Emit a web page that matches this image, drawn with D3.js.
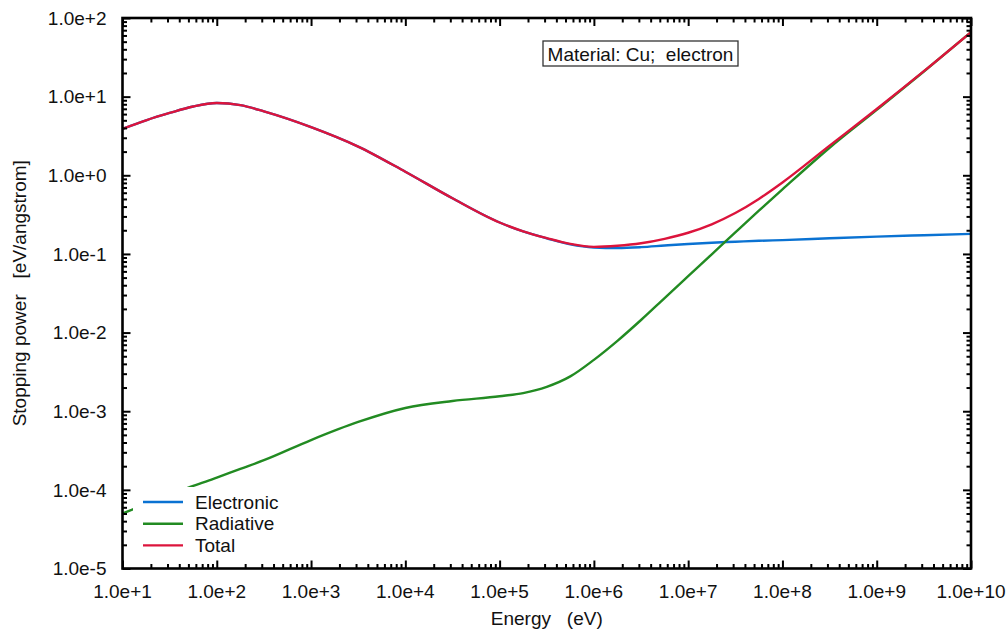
<!DOCTYPE html>
<html>
<head>
<meta charset="utf-8">
<script src="https://cdn.jsdelivr.net/npm/d3@7"></script>
<style>
  html, body { margin: 0; padding: 0; background: #fff; }
  svg text { font-family: "Liberation Sans", Arial, sans-serif; fill: #111; }
</style>
</head>
<body>
<div id="chart"></div>
<script>
// energies (eV) at which the curves were read, as log10
const energyLog = [1, 1.25, 1.5, 1.75, 2, 2.25, 2.5, 3, 3.5, 4, 4.5, 5, 5.25, 5.5, 5.75, 6, 6.25, 6.5, 6.75, 7, 7.25, 7.5, 7.75, 8, 8.5, 9, 9.5, 10];

// stopping power in eV/angstrom
const electronic = [3.9, 5.0, 6.2, 7.5, 8.3, 7.8, 6.5, 4.1, 2.32, 1.11, 0.51, 0.251, 0.193, 0.158, 0.132, 0.1208, 0.119, 0.122, 0.128, 0.134, 0.139, 0.143, 0.147, 0.150, 0.158, 0.166, 0.173, 0.180];
const radiative = [5.0e-5, 6.6e-5, 8.6e-5, 1.12e-4, 1.43e-4, 1.85e-4, 2.38e-4, 4.3e-4, 7.3e-4, 1.1e-3, 1.35e-3, 1.55e-3, 1.7e-3, 2.04e-3, 2.77e-3, 4.5e-3, 7.85e-3, 0.01445, 0.0275, 0.0522, 0.099, 0.188, 0.355, 0.661, 2.24, 6.8, 20.9, 66];
const total = [3.9, 5.0, 6.2, 7.5, 8.3, 7.8, 6.5, 4.1, 2.32, 1.11, 0.51, 0.251, 0.194, 0.159, 0.134, 0.123, 0.127, 0.1365, 0.1555, 0.186, 0.238, 0.331, 0.50, 0.81, 2.38, 6.97, 21.1, 66.2];

const seriesNames = ["Electronic", "Radiative", "Total"];
const seriesColors = ["#0a72d2", "#228b22", "#dc143c"];

const xExponents = d3.range(1, 11);
const yExponents = d3.range(-5, 3);

const W = 1006, H = 633;
const pLeft = 122.5, pRight = 971, pTop = 18, pBottom = 568.5;
const fontSize = "19px";

const svg = d3.select("#chart").append("svg")
  .attr("width", W)
  .attr("height", H);

const x = d3.scaleLog().domain([1e1, 1e10]).range([pLeft, pRight]);
const y = d3.scaleLog().domain([1e-5, 1e2]).range([pBottom, pTop]);

const fmt = e => "1.0e" + (e >= 0 ? "+" : "-") + Math.abs(e);

// minor tick values
function minors(exps) {
  const out = [];
  exps.slice(0, -1).forEach(e => {
    for (let k = 2; k <= 9; k++) out.push(k * Math.pow(10, e));
  });
  return out;
}
const xMajor = xExponents.map(e => Math.pow(10, e));
const yMajor = yExponents.map(e => Math.pow(10, e));
const xMinor = minors(xExponents);
const yMinor = minors(yExponents);

const energies = energyLog.map(l => Math.pow(10, l));
const allSeries = [electronic, radiative, total];

svg.append("clipPath").attr("id", "clip")
  .append("rect")
  .attr("x", pLeft).attr("y", pTop)
  .attr("width", pRight - pLeft).attr("height", pBottom - pTop);

const line = d3.line()
  .x(d => x(d[0]))
  .y(d => y(d[1]))
  .curve(d3.curveMonotoneX);

const plot = svg.append("g").attr("clip-path", "url(#clip)");
allSeries.forEach((vals, i) => {
  plot.append("path")
    .datum(energies.map((e, j) => [e, vals[j]]))
    .attr("fill", "none")
    .attr("stroke", seriesColors[i])
    .attr("stroke-width", 2.4)
    .attr("stroke-linejoin", "round")
    .attr("d", line);
});

// ticks on all four sides, pointing inward
function axisTicks(gen, scale, vals, size, transform) {
  const g = svg.append("g")
    .attr("transform", transform)
    .call(gen(scale).tickValues(vals).tickSize(-size).tickFormat(""));
  g.select(".domain").remove();
  g.selectAll(".tick line").attr("stroke", "#000").attr("stroke-width", 2);
  return g;
}
axisTicks(d3.axisBottom, x, xMajor, 8, `translate(0,${pBottom})`);
axisTicks(d3.axisBottom, x, xMinor, 4.5, `translate(0,${pBottom})`);
axisTicks(d3.axisTop, x, xMajor, 8, `translate(0,${pTop})`);
axisTicks(d3.axisTop, x, xMinor, 4.5, `translate(0,${pTop})`);
axisTicks(d3.axisLeft, y, yMajor, 8, `translate(${pLeft},0)`);
axisTicks(d3.axisLeft, y, yMinor, 4.5, `translate(${pLeft},0)`);
axisTicks(d3.axisRight, y, yMajor, 8, `translate(${pRight},0)`);
axisTicks(d3.axisRight, y, yMinor, 4.5, `translate(${pRight},0)`);

// frame
svg.append("rect")
  .attr("x", pLeft).attr("y", pTop)
  .attr("width", pRight - pLeft).attr("height", pBottom - pTop)
  .attr("fill", "none")
  .attr("stroke", "#000")
  .attr("stroke-width", 2.6);

// tick labels
svg.append("g").selectAll("text")
  .data(xExponents)
  .enter().append("text")
  .attr("x", d => x(Math.pow(10, d)))
  .attr("y", 598)
  .attr("text-anchor", "middle")
  .style("font-size", fontSize)
  .text(fmt);

svg.append("g").selectAll("text")
  .data(yExponents)
  .enter().append("text")
  .attr("x", pLeft - 16)
  .attr("y", d => y(Math.pow(10, d)))
  .attr("dy", "0.35em")
  .attr("text-anchor", "end")
  .style("font-size", fontSize)
  .text(fmt);

// axis titles
svg.append("text")
  .attr("x", (pLeft + pRight) / 2)
  .attr("y", 625)
  .attr("text-anchor", "middle")
  .style("font-size", fontSize)
  .style("white-space", "pre")
  .text("Energy   (eV)");

svg.append("text")
  .attr("transform", `translate(26,${(pTop + pBottom) / 2}) rotate(-90)`)
  .attr("text-anchor", "middle")
  .style("font-size", fontSize)
  .style("white-space", "pre")
  .text("Stopping power   [eV/angstrom]");

// annotation box
svg.append("rect")
  .attr("x", 543).attr("y", 41)
  .attr("width", 195).attr("height", 25)
  .attr("fill", "#fff")
  .attr("stroke", "#333")
  .attr("stroke-width", 1.3);
svg.append("text")
  .attr("x", 640.5).attr("y", 54)
  .attr("dy", "0.35em")
  .attr("text-anchor", "middle")
  .style("font-size", fontSize)
  .style("white-space", "pre")
  .text("Material: Cu;  electron");

// legend
const legend = svg.append("g");
legend.append("rect")
  .attr("x", 133).attr("y", 487)
  .attr("width", 160).attr("height", 72)
  .attr("fill", "#fff");
seriesNames.forEach((name, i) => {
  const yy = 502 + i * 21.7;
  legend.append("line")
    .attr("x1", 143).attr("x2", 183)
    .attr("y1", yy).attr("y2", yy)
    .attr("stroke", seriesColors[i])
    .attr("stroke-width", 2.4);
  legend.append("text")
    .attr("x", 195).attr("y", yy)
    .attr("dy", "0.35em")
    .style("font-size", fontSize)
    .text(name);
});
</script>
</body>
</html>
